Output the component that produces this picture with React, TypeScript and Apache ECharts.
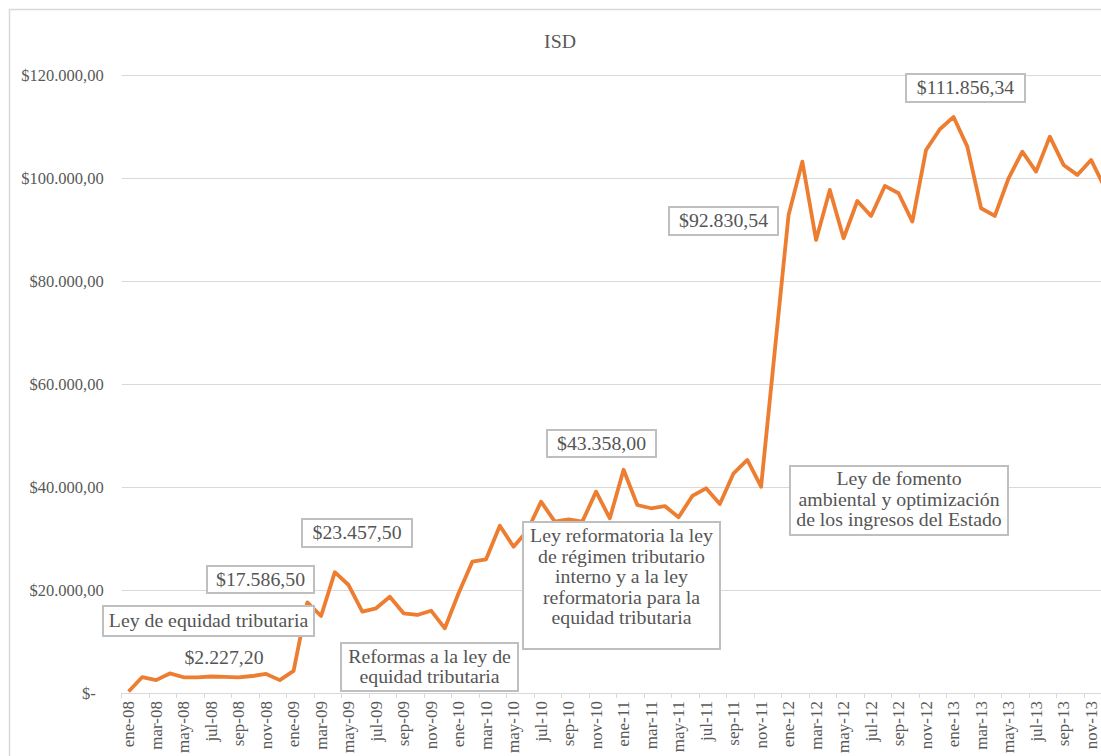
import React, { useEffect, useRef } from "react";
import * as echarts from "echarts";

const months = ["ene", "feb", "mar", "abr", "may", "jun", "jul", "ago", "sep", "oct", "nov", "dic"];
const years = ["08", "09", "10", "11", "12", "13"];
const categories = years.flatMap((y) => months.map((m) => `${m}-${y}`));

const isd2008 = [300, 3100, 2500, 3800, 3050, 3050, 3200, 3150, 3050, 3300, 3700, 2500];
const isd2009 = [4300, 17586.5, 14950, 23457.5, 20970, 15800, 16450, 18700, 15470, 15150, 15980, 12560];
const isd2010 = [19360, 25500, 25960, 32490, 28410, 31500, 37150, 33270, 33730, 33270, 39100, 33920];
const isd2011 = [43358, 36500, 35870, 36300, 34120, 38260, 39750, 36700, 42660, 45250, 40060, 66500];
const isd2012 = [92830.54, 103180, 87970, 97680, 88300, 95540, 92630, 98460, 97040, 91530, 105450, 109470];
const isd2013 = [111856.34, 106090, 94130, 92630, 99950, 105120, 101240, 108030, 102540, 100600, 103510, 98130];
const isdValues = [...isd2008, ...isd2009, ...isd2010, ...isd2011, ...isd2012, ...isd2013];

const yMin = 0;
const yMax = 120000;
const yStep = 20000;

const titleText = "ISD";

// callouts: text lines, box [x, y, w, h] (null = no box), text centre [x, y]
const callouts: { lines: string[]; box: number[] | null; at: number[] }[] = [
  { lines: ["$17.586,50"], box: [207, 566, 107, 27], at: [260.5, 579.5] },
  { lines: ["Ley de equidad tributaria"], box: [103, 606, 211, 30], at: [208.5, 621] },
  { lines: ["$2.227,20"], box: null, at: [224, 658] },
  { lines: ["$23.457,50"], box: [302, 519, 110, 28], at: [357, 533] },
  { lines: ["Reformas a la ley de", "equidad tributaria"], box: [341, 643, 177, 48], at: [429.5, 667] },
  { lines: ["$43.358,00"], box: [547, 430, 109, 27], at: [601.5, 443.5] },
  {
    lines: ["Ley reformatoria la ley", "de régimen tributario", "interno y a la ley", "reformatoria para la", "equidad tributaria"],
    box: [523, 522, 197, 127],
    at: [621.5, 577],
  },
  { lines: ["$92.830,54"], box: [669, 207, 109, 28], at: [723.5, 221] },
  { lines: ["$111.856,34"], box: [906, 74, 119, 28], at: [965.5, 88] },
  { lines: ["Ley de fomento", "ambiental y optimización", "de los ingresos del Estado"], box: [790, 466, 218, 69], at: [899, 499.5] },
];

const SERIF = '"Liberation Serif", "Times New Roman", serif';
const TEXT_COLOR = "#595959";

function fmtMoney(v: number): string {
  const s = Math.round(v).toString();
  let out = "";
  for (let i = 0; i < s.length; i++) {
    if (i > 0 && (s.length - i) % 3 === 0) out += ".";
    out += s[i];
  }
  return "$" + out + ",00";
}

const CHART_W = 1130;
const CHART_H = 756;

export default function App() {
  const ref = useRef<HTMLDivElement>(null);

  useEffect(() => {
    if (!ref.current) return;
    const chart = echarts.init(ref.current, undefined, { renderer: "svg" });

    const graphics: any[] = [
      {
        type: "rect",
        shape: { x: 9.5, y: 9.5, width: 1300, height: 1000 },
        style: { fill: "none", stroke: "#d9d9d9", lineWidth: 1.5 },
        z: 0,
        silent: true,
      },
      {
        type: "text",
        x: 560,
        y: 42,
        scaleX: 1.1,
        style: {
          text: titleText,
          font: `18px ${SERIF}`,
          fill: TEXT_COLOR,
          textAlign: "center",
          textVerticalAlign: "middle",
        },
        z: 100,
      },
    ];

    callouts.forEach((c) => {
      if (c.box) {
        graphics.push({
          type: "rect",
          shape: { x: c.box[0], y: c.box[1], width: c.box[2], height: c.box[3] },
          style: { fill: "#ffffff", stroke: "#bfbfbf", lineWidth: 2 },
          z: 100,
        });
      }
      graphics.push({
        type: "text",
        x: c.at[0],
        y: c.at[1],
        scaleX: 1.1,
        style: {
          text: c.lines.join("\n"),
          font: `18px ${SERIF}`,
          lineHeight: 20.5,
          fill: "#555555",
          textAlign: "center",
          textVerticalAlign: "middle",
        },
        z: 101,
      });
    });

    chart.setOption({
      animation: false,
      backgroundColor: "#ffffff",
      grid: { left: 121.7, right: CHART_W - 1111.7, top: 75, bottom: CHART_H - 693, containLabel: false },
      xAxis: {
        type: "category",
        data: categories,
        boundaryGap: true,
        axisLine: { show: true, lineStyle: { color: "#d9d9d9", width: 1 } },
        axisTick: { show: true, interval: 1, alignWithLabel: false, length: 5, lineStyle: { color: "#d9d9d9" } },
        axisLabel: {
          interval: 1,
          rotate: 90,
          margin: 8,
          fontFamily: SERIF,
          fontSize: 17,
          color: TEXT_COLOR,
        },
        splitLine: { show: false },
      },
      yAxis: {
        type: "value",
        min: yMin,
        max: yMax,
        interval: yStep,
        axisLine: { show: false },
        axisTick: { show: false },
        splitLine: { show: true, lineStyle: { color: "#d9d9d9", width: 1 } },
        axisLabel: {
          margin: 18,
          fontFamily: SERIF,
          fontSize: 16.5,
          color: TEXT_COLOR,
          formatter: (v: number) => (v === 0 ? "{z|$-}" : fmtMoney(v)),
          rich: {
            z: { fontFamily: SERIF, fontSize: 16.5, color: TEXT_COLOR, padding: [0, 8, 0, 0] },
          },
        },
      },
      series: [
        {
          name: "ISD",
          type: "line",
          data: isdValues,
          symbol: "none",
          lineStyle: { color: "#ED7D31", width: 3.8, join: "round" },
          itemStyle: { color: "#ED7D31" },
          z: 2,
        },
      ],
      graphic: { elements: graphics },
    });

    return () => chart.dispose();
  }, []);

  return (
    <div style={{ position: "absolute", left: 0, top: 0, width: 1101, height: CHART_H, overflow: "hidden", background: "#fff" }}>
      <div ref={ref} style={{ width: CHART_W, height: CHART_H }} />
    </div>
  );
}
